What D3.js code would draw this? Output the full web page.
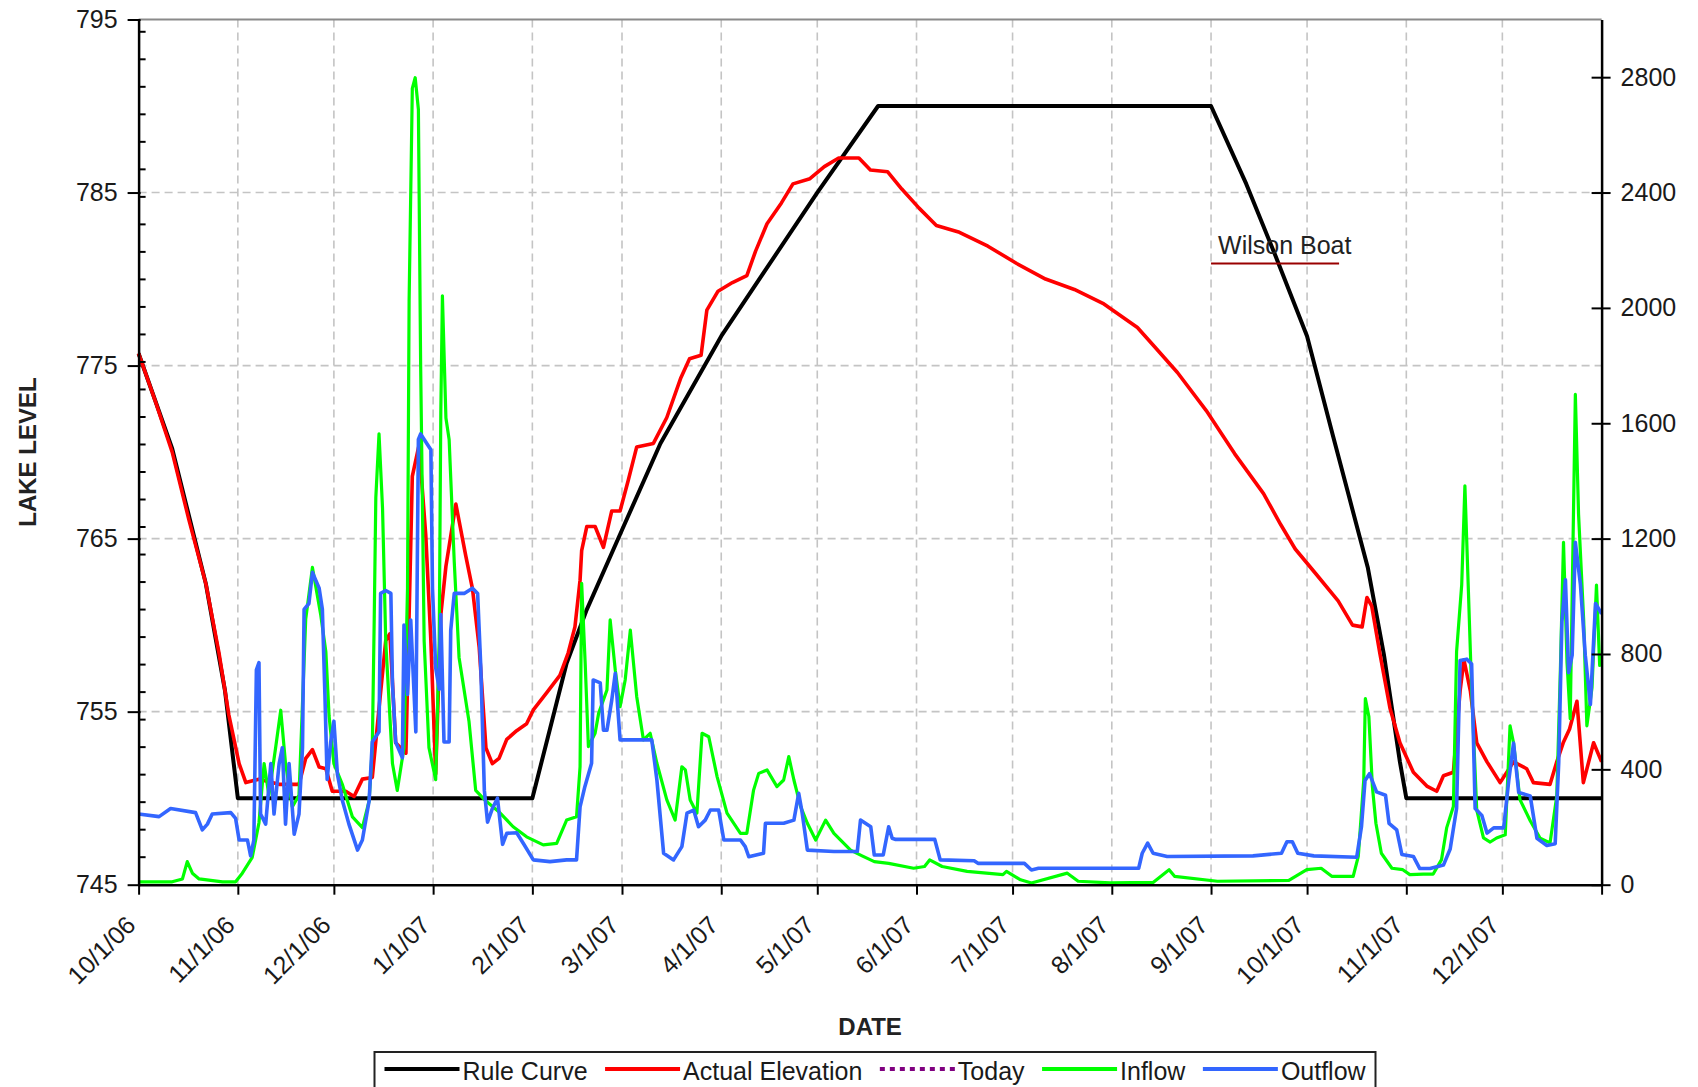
<!DOCTYPE html>
<html>
<head>
<meta charset="utf-8">
<script src="https://cdn.jsdelivr.net/npm/d3@7"></script>
<style>
  body { margin: 0; background: #fff; }
  text { font-family: "Liberation Sans", Arial, sans-serif; }
</style>
</head>
<body>
<div id="display"></div>
<script>

// days are counted from 10/1/06
const monthLabels = ["10/1/06", "11/1/06", "12/1/06", "1/1/07", "2/1/07", "3/1/07", "4/1/07",
  "5/1/07", "6/1/07", "7/1/07", "8/1/07", "9/1/07", "10/1/07", "11/1/07", "12/1/07"]
const levelTicks = [745, 755, 765, 775, 785, 795]
const flowTicks = [0, 400, 800, 1200, 1600, 2000, 2400, 2800]
const legendNames = ["Rule Curve", "Actual Elevation", "Today", "Inflow", "Outflow"]

const ruleCurve = [[0, 775.7], [10.5, 770.2], [21, 762.4], [27, 756.2], [31, 750], [123, 750],
  [128.5, 754], [133.7, 757.8], [140, 760.9], [151, 765.5], [163, 770.5], [182, 776.7],
  [212, 785], [231, 790], [335, 790], [346, 785.5], [355, 781.4], [365, 776.7], [373, 771],
  [378, 767.5], [384, 763.3], [389, 758.3], [394, 752.1], [396, 750], [457, 750]]

const elevation = [[0, 775.7], [5.3, 772.9], [10.5, 770], [15.7, 766.1], [21, 762.4], [25.1, 758.4],
  [28.2, 754.8], [31.4, 752], [33.5, 750.9], [37.6, 751.1], [43.9, 750.8], [50.1, 750.8],
  [52.2, 752.3], [54.3, 752.8], [56.4, 751.8], [58.5, 751.7], [60.5, 750.4], [64.7, 750.4],
  [67.3, 750.1], [69.9, 751.1], [73, 751.2], [75, 755], [77.2, 759.1], [78.5, 759.5], [80.3, 753.2],
  [83.5, 752.6], [85.5, 768.6], [87.6, 770.4], [89.7, 765.2], [91.3, 759.1], [92.8, 751.4],
  [94.4, 760.6], [96, 763.4], [99.1, 767], [102.2, 764], [104.3, 762.1], [106.4, 758.7],
  [108.5, 752.9], [110.5, 752], [112.6, 752.3], [115, 753.4], [118.1, 753.9], [121.2, 754.3],
  [123.3, 755.1], [127.5, 756.1], [131.6, 757.1], [134.2, 758.4], [136.3, 759.9], [137.9, 762.6],
  [138.4, 764.3], [140, 765.7], [142.6, 765.7], [145.2, 764.5], [147.8, 766.6], [150.4, 766.6],
  [153, 768.4], [155.6, 770.3], [160.8, 770.5], [165, 772], [169.4, 774.3], [172.1, 775.4],
  [175.7, 775.6], [177.5, 778.2], [181, 779.3], [185.5, 779.8], [190, 780.2], [192.7, 781.6],
  [196.3, 783.2], [200.8, 784.4], [204.4, 785.5], [209.7, 785.8], [214.2, 786.5], [218.7, 787],
  [225, 787], [228.6, 786.3], [234, 786.2], [238.4, 785.2], [243.8, 784.1], [249.2, 783.1],
  [256.4, 782.7], [265.3, 781.9], [274.3, 780.9], [283.3, 780], [292.3, 779.4], [301.2, 778.6],
  [312, 777.2], [317.3, 776.1], [324.5, 774.6], [333.5, 772.4], [342.4, 769.9], [351.4, 767.6],
  [356.8, 765.8], [361.3, 764.4], [367.6, 763], [374.7, 761.4], [379.2, 760], [382.2, 759.9],
  [383.7, 761.6], [385.2, 761.1], [387.8, 758.3], [390.9, 755.2], [394, 753.2], [398.2, 751.5],
  [402.4, 750.7], [405.5, 750.4], [407.6, 751.3], [410.7, 751.5], [412.8, 756.2], [414, 758],
  [416, 756.2], [418, 753.2], [421.2, 752.1], [425.3, 750.9], [429.5, 752.1], [433.6, 751.7],
  [435.7, 750.9], [440.9, 750.8], [443, 752.1], [445, 753.2], [447, 754], [449.3, 755.6],
  [451.3, 750.9], [454.5, 753.2], [457, 752.1]]

const inflow = [[0, 10], [10.5, 10], [13.7, 20], [15.2, 80], [16.8, 40], [18.9, 20], [26.2, 10],
  [30.3, 10], [32.4, 40], [35.5, 95], [37.6, 215], [39.2, 420], [40.7, 310], [42.8, 475],
  [44.4, 605], [45.9, 420], [48, 270], [50.1, 310], [52.2, 920], [54.3, 1100], [56.9, 935],
  [58.5, 807], [59.5, 585], [61, 420], [63.7, 346], [66.8, 235], [69.9, 198], [72, 290], [73, 475],
  [73.6, 920], [74.1, 1342], [75.1, 1563], [76.2, 1305], [77.2, 844], [79.3, 420], [80.8, 327],
  [82.9, 475], [84, 1028], [84.5, 2024], [85.5, 2761], [86.4, 2798], [87.4, 2688], [88.1, 1803],
  [89.2, 844], [90.7, 475], [92.8, 364], [93.9, 844], [94.4, 1637], [94.9, 2042], [96, 1618],
  [97, 1544], [98.6, 1120], [100.1, 788], [103.2, 567], [105.3, 327], [108.5, 290], [112.8, 250],
  [117, 201], [121.2, 166], [126.4, 138], [130.6, 143], [133.7, 224], [136.8, 236], [137.9, 409],
  [138.4, 1045], [139.5, 768], [140.5, 479], [142.6, 525], [143.7, 594], [146.3, 675], [147.3, 918],
  [148.9, 744], [150.4, 617], [152, 710], [153.6, 883], [155.6, 652], [157.7, 502], [159.8, 525],
  [161.9, 421], [165, 294], [167.6, 224], [169.7, 409], [170.8, 398], [172.3, 294], [174.4, 248],
  [176, 525], [178.1, 513], [180.7, 375], [183.8, 248], [188, 178], [190, 178], [192.1, 328],
  [193.7, 386], [196.3, 398], [199.4, 340], [201.5, 363], [203.1, 444], [204.7, 363], [206.8, 271],
  [208.9, 213], [211.5, 155], [214.6, 224], [217.2, 178], [222.4, 120], [226, 100], [229.8, 80],
  [234.3, 74], [242.1, 57], [245.5, 63], [247.1, 86], [251, 63], [258.8, 46], [270, 35], [271.1, 46],
  [275.5, 17], [278.9, 6], [290.1, 40], [293.5, 12], [303.5, 6], [316.9, 8], [321.9, 52],
  [323.6, 29], [337, 12], [359.3, 15], [364.9, 52], [369.4, 57], [372.7, 29], [379.4, 29],
  [381, 98], [382.7, 363], [383.2, 645], [384.3, 583], [385.4, 340], [386.5, 213], [388.2, 109],
  [391.5, 57], [394.9, 52], [397.1, 35], [401.3, 37], [404.4, 37], [407, 87], [408.6, 197],
  [410.7, 271], [411.7, 808], [413.3, 1040], [414.3, 1383], [415.4, 1016], [416.4, 675], [418, 259],
  [420.1, 162], [422.2, 148], [424.2, 162], [426.9, 173], [428.4, 551], [429.5, 491], [431.5, 295],
  [434.7, 222], [437.8, 161], [440.9, 145], [443, 308], [444.1, 735], [445.1, 1187], [446.2, 771],
  [447.2, 576], [448.8, 1700], [449.8, 1285], [451.4, 918], [452.4, 551], [454, 683], [455.4, 1039],
  [456.4, 760], [457, 800]]

const outflow = [[0, 245], [6.4, 236], [10, 264], [17.8, 250], [19.9, 190], [21.5, 210], [23, 245],
  [28.8, 250], [30.3, 230], [31.4, 155], [34, 155], [35, 100], [36, 155], [36.8, 745], [37.6, 770],
  [38.1, 245], [39.7, 210], [41.3, 420], [42.3, 245], [43.9, 420], [44.9, 475], [45.9, 210],
  [47, 420], [48.6, 175], [50.1, 245], [51.2, 475], [51.7, 955], [53.2, 975], [54.3, 1083],
  [56.4, 1028], [57.4, 955], [58.2, 660], [58.9, 365], [60, 495], [61, 567], [62.1, 383], [63.7, 290],
  [65.7, 210], [68.4, 120], [69.9, 155], [72, 290], [73, 495], [75.1, 530], [75.6, 1010],
  [77.2, 1020], [78.8, 1010], [79.3, 697], [80.3, 495], [82.4, 440], [82.9, 900], [84, 660],
  [85, 918], [86.6, 530], [87.4, 1544], [88.1, 1563], [91.3, 1508], [91.8, 1028], [92.8, 752],
  [93.9, 678], [94.4, 937], [95.4, 495], [97, 495], [97.5, 882], [98.6, 1010], [101.7, 1010],
  [104.3, 1028], [105.9, 1010], [106.9, 752], [108, 327], [109, 217], [110.5, 264], [112.1, 300],
  [113.7, 140], [115, 178], [118.1, 180], [120.2, 143], [123.3, 86], [128.5, 80], [133.7, 86],
  [136.8, 86], [137.9, 270], [139.4, 340], [141.5, 421], [142, 710], [144.2, 700], [145.2, 536],
  [146.3, 536], [147.8, 640], [148.9, 733], [150.4, 502], [152.5, 502], [160.3, 502], [161.9, 363],
  [164, 109], [167.1, 86], [169.7, 132], [171.3, 248], [173.4, 259], [174.9, 201], [177, 224],
  [178.6, 259], [181.2, 259], [182.8, 155], [188, 155], [189.5, 132], [190.6, 97], [195.2, 109],
  [195.8, 213], [201.5, 213], [204.7, 224], [206.2, 317], [207.3, 248], [208.9, 120], [217.2, 115],
  [224.5, 115], [225.5, 224], [228.7, 201], [229.8, 103], [232.6, 103], [234.3, 201], [235.4, 161],
  [236.5, 157], [248.7, 157], [250.4, 86], [261, 83], [262.2, 74], [276.7, 74], [278.9, 51],
  [281.1, 57], [312.4, 57], [313.5, 109], [315.2, 144], [316.9, 109], [321.3, 98], [348.1, 100],
  [357, 109], [358.7, 149], [360.4, 149], [362.1, 109], [367.1, 100], [380.5, 95], [382, 202],
  [383.1, 361], [384.5, 385], [386.7, 322], [389.5, 310], [390.6, 213], [393, 190], [394.6, 105],
  [398.2, 98], [400.2, 56], [403.4, 56], [407.6, 68], [409.7, 124], [411.7, 264], [412.8, 777],
  [414.9, 782], [416.4, 765], [417.5, 264], [419.6, 240], [421.2, 179], [423.3, 197], [426.4, 197],
  [428, 361], [429.5, 491], [431.1, 320], [434.7, 308], [436.8, 161], [439.9, 136], [442.5, 142],
  [443.6, 422], [444.6, 911], [445.7, 1057], [446.7, 735], [447.8, 796], [448.8, 1187],
  [450.4, 1040], [451.9, 796], [453.5, 625], [455.1, 975], [457, 939]]

const boatLabel = "Wilson Boat"
const boatLevel = 780.9
const boatSpan = ["9/1/07", "10/11/07"]


function chart(parentNode)
{
  let width = 1698
  let height = 1087
  let margin = {top: 19.5, right: 96.4, bottom: 202.3, left: 138.6}
  let parseDay = d3.utcParse("%m/%d/%y")
  let start = parseDay(monthLabels[0])
  let end = parseDay("1/1/08")
  let dayDate = d => new Date(+start + d * 864e5)

  let x = d3.scaleUtc([start, end], [margin.left, width - margin.right])
  let yL = d3.scaleLinear([745, 795], [height - margin.bottom, margin.top])
  let yR = d3.scaleLinear([0, 3000], [height - margin.bottom, margin.top])

  let monthDates = monthLabels.map(parseDay)
  let colors = {rule: "#000000", elev: "#ff0000", today: "#800080", inflow: "#00ff00", outflow: "#3366ff"}

  const svg = d3.create("svg")
      .attr("width", width)
      .attr("height", height)
      .attr("viewBox", [0, 0, width, height])
      .style("display", "block")
      .style("background", "#fff")

  // attach first so text can be measured for the legend
  parentNode.appendChild(svg.node())

  // grid
  svg.append("g")
      .attr("stroke", "#c4c4c4")
      .attr("stroke-width", 1.6)
      .attr("stroke-dasharray", "8,5")
    .call(g => g.selectAll(".v")
      .data(monthDates.slice(1))
      .join("line")
        .attr("x1", d => x(d)).attr("x2", d => x(d))
        .attr("y1", margin.top).attr("y2", height - margin.bottom))
    .call(g => g.selectAll(".h")
      .data(levelTicks.slice(1, -1))
      .join("line")
        .attr("x1", margin.left).attr("x2", width - margin.right)
        .attr("y1", d => yL(d)).attr("y2", d => yL(d)))

  // top frame
  svg.append("line")
      .attr("x1", margin.left).attr("x2", width - margin.right)
      .attr("y1", margin.top).attr("y2", margin.top)
      .attr("stroke", "#8a8a8a").attr("stroke-width", 2)

  let lineL = d3.line().x(d => x(dayDate(d[0]))).y(d => yL(d[1]))
  let lineR = d3.line().x(d => x(dayDate(d[0]))).y(d => yR(d[1]))

  let plot = svg.append("g").attr("fill", "none").attr("stroke-linejoin", "round")
  plot.append("path").attr("d", lineL(ruleCurve)).attr("stroke", colors.rule).attr("stroke-width", 4)
  plot.append("path").attr("d", lineL(elevation)).attr("stroke", colors.elev).attr("stroke-width", 3.6)
  plot.append("path").attr("d", lineR(inflow)).attr("stroke", colors.inflow).attr("stroke-width", 3.2)
  plot.append("path").attr("d", lineR(outflow)).attr("stroke", colors.outflow).attr("stroke-width", 3.6)

  // boat ramp marker
  let boatX = boatSpan.map(s => x(parseDay(s)))
  svg.append("line")
      .attr("x1", boatX[0]).attr("x2", boatX[1])
      .attr("y1", yL(boatLevel)).attr("y2", yL(boatLevel))
      .attr("stroke", "#990000").attr("stroke-width", 2)
  svg.append("text")
      .attr("x", boatX[0] + 7).attr("y", yL(boatLevel) - 9)
      .attr("font-size", 25).attr("fill", "#222")
      .text(boatLabel)

  // left axis
  let minorTicks = d3.range(1, 32).map(k => 745 + k * 1.59)
  svg.append("g")
      .attr("stroke", "#000").attr("stroke-width", 2)
    .selectAll("line")
    .data(minorTicks)
    .join("line")
      .attr("x1", margin.left).attr("x2", margin.left + 7)
      .attr("y1", d => yL(d)).attr("y2", d => yL(d))

  svg.append("g")
      .attr("transform", `translate(${margin.left},0)`)
      .call(d3.axisLeft(yL).tickValues(levelTicks).tickSize(11).tickPadding(10).tickSizeOuter(0))
      .call(g => g.select(".domain").attr("stroke-width", 2.5))
      .call(g => g.selectAll(".tick line").attr("stroke-width", 2).attr("x2", 2).attr("x1", -11))
      .call(g => g.selectAll(".tick text").attr("font-size", 25).attr("fill", "#1a1a1a").attr("font-family", null))

  // right axis
  svg.append("g")
      .attr("transform", `translate(${width - margin.right},0)`)
      .call(d3.axisRight(yR).tickValues(flowTicks).tickFormat(d3.format("d"))
        .tickSize(9).tickPadding(10).tickSizeOuter(0))
      .call(g => g.select(".domain").attr("stroke-width", 2.5))
      .call(g => g.selectAll(".tick line").attr("stroke-width", 2).attr("x1", -10))
      .call(g => g.selectAll(".tick text").attr("font-size", 25).attr("fill", "#1a1a1a").attr("font-family", null))

  // bottom axis
  svg.append("g")
      .attr("transform", `translate(0,${height - margin.bottom})`)
      .call(d3.axisBottom(x).tickValues([...monthDates, end]).tickSize(10).tickSizeOuter(0)
        .tickFormat((d, i) => monthLabels[i] || ""))
      .call(g => g.select(".domain").attr("stroke-width", 2.5))
      .call(g => g.selectAll(".tick line").attr("stroke-width", 2))
      .call(g => g.selectAll(".tick text")
        .attr("font-size", 25).attr("fill", "#1a1a1a").attr("font-family", null)
        .attr("x", 0).attr("y", 0).attr("dy", 0)
        .attr("text-anchor", "end")
        .attr("transform", "translate(-2,42) rotate(-45)"))

  // titles
  svg.append("text")
      .attr("transform", `translate(36,${(margin.top + height - margin.bottom) / 2}) rotate(-90)`)
      .attr("text-anchor", "middle")
      .attr("font-size", 24).attr("font-weight", "bold").attr("fill", "#222")
      .text("LAKE LEVEL")
  svg.append("text")
      .attr("x", (margin.left + width - margin.right) / 2).attr("y", 1035)
      .attr("text-anchor", "middle")
      .attr("font-size", 24).attr("font-weight", "bold").attr("fill", "#222")
      .text("DATE")

  // legend
  const legend = svg.append("g").attr("transform", "translate(374.5,1052)")
  legend.append("rect")
      .attr("width", 1001).attr("height", 50)
      .attr("fill", "#fff").attr("stroke", "#222").attr("stroke-width", 2)
  let styles = [
    {color: colors.rule, dash: null},
    {color: colors.elev, dash: null},
    {color: colors.today, dash: "5,5"},
    {color: colors.inflow, dash: null},
    {color: colors.outflow, dash: null}
  ]
  let cx = 10
  legendNames.forEach((name, i) => {
    legend.append("line")
        .attr("x1", cx).attr("x2", cx + 75)
        .attr("y1", 17).attr("y2", 17)
        .attr("stroke", styles[i].color).attr("stroke-width", 4)
        .attr("stroke-dasharray", styles[i].dash)
    let t = legend.append("text")
        .attr("x", cx + 78).attr("y", 28)
        .attr("font-size", 25).attr("fill", "#1a1a1a")
        .text(name)
    cx += 78 + t.node().getComputedTextLength() + 17.5
  })
}

document.addEventListener("DOMContentLoaded", () => {
    chart(document.getElementById("display"));
})
</script>
</body>
</html>
